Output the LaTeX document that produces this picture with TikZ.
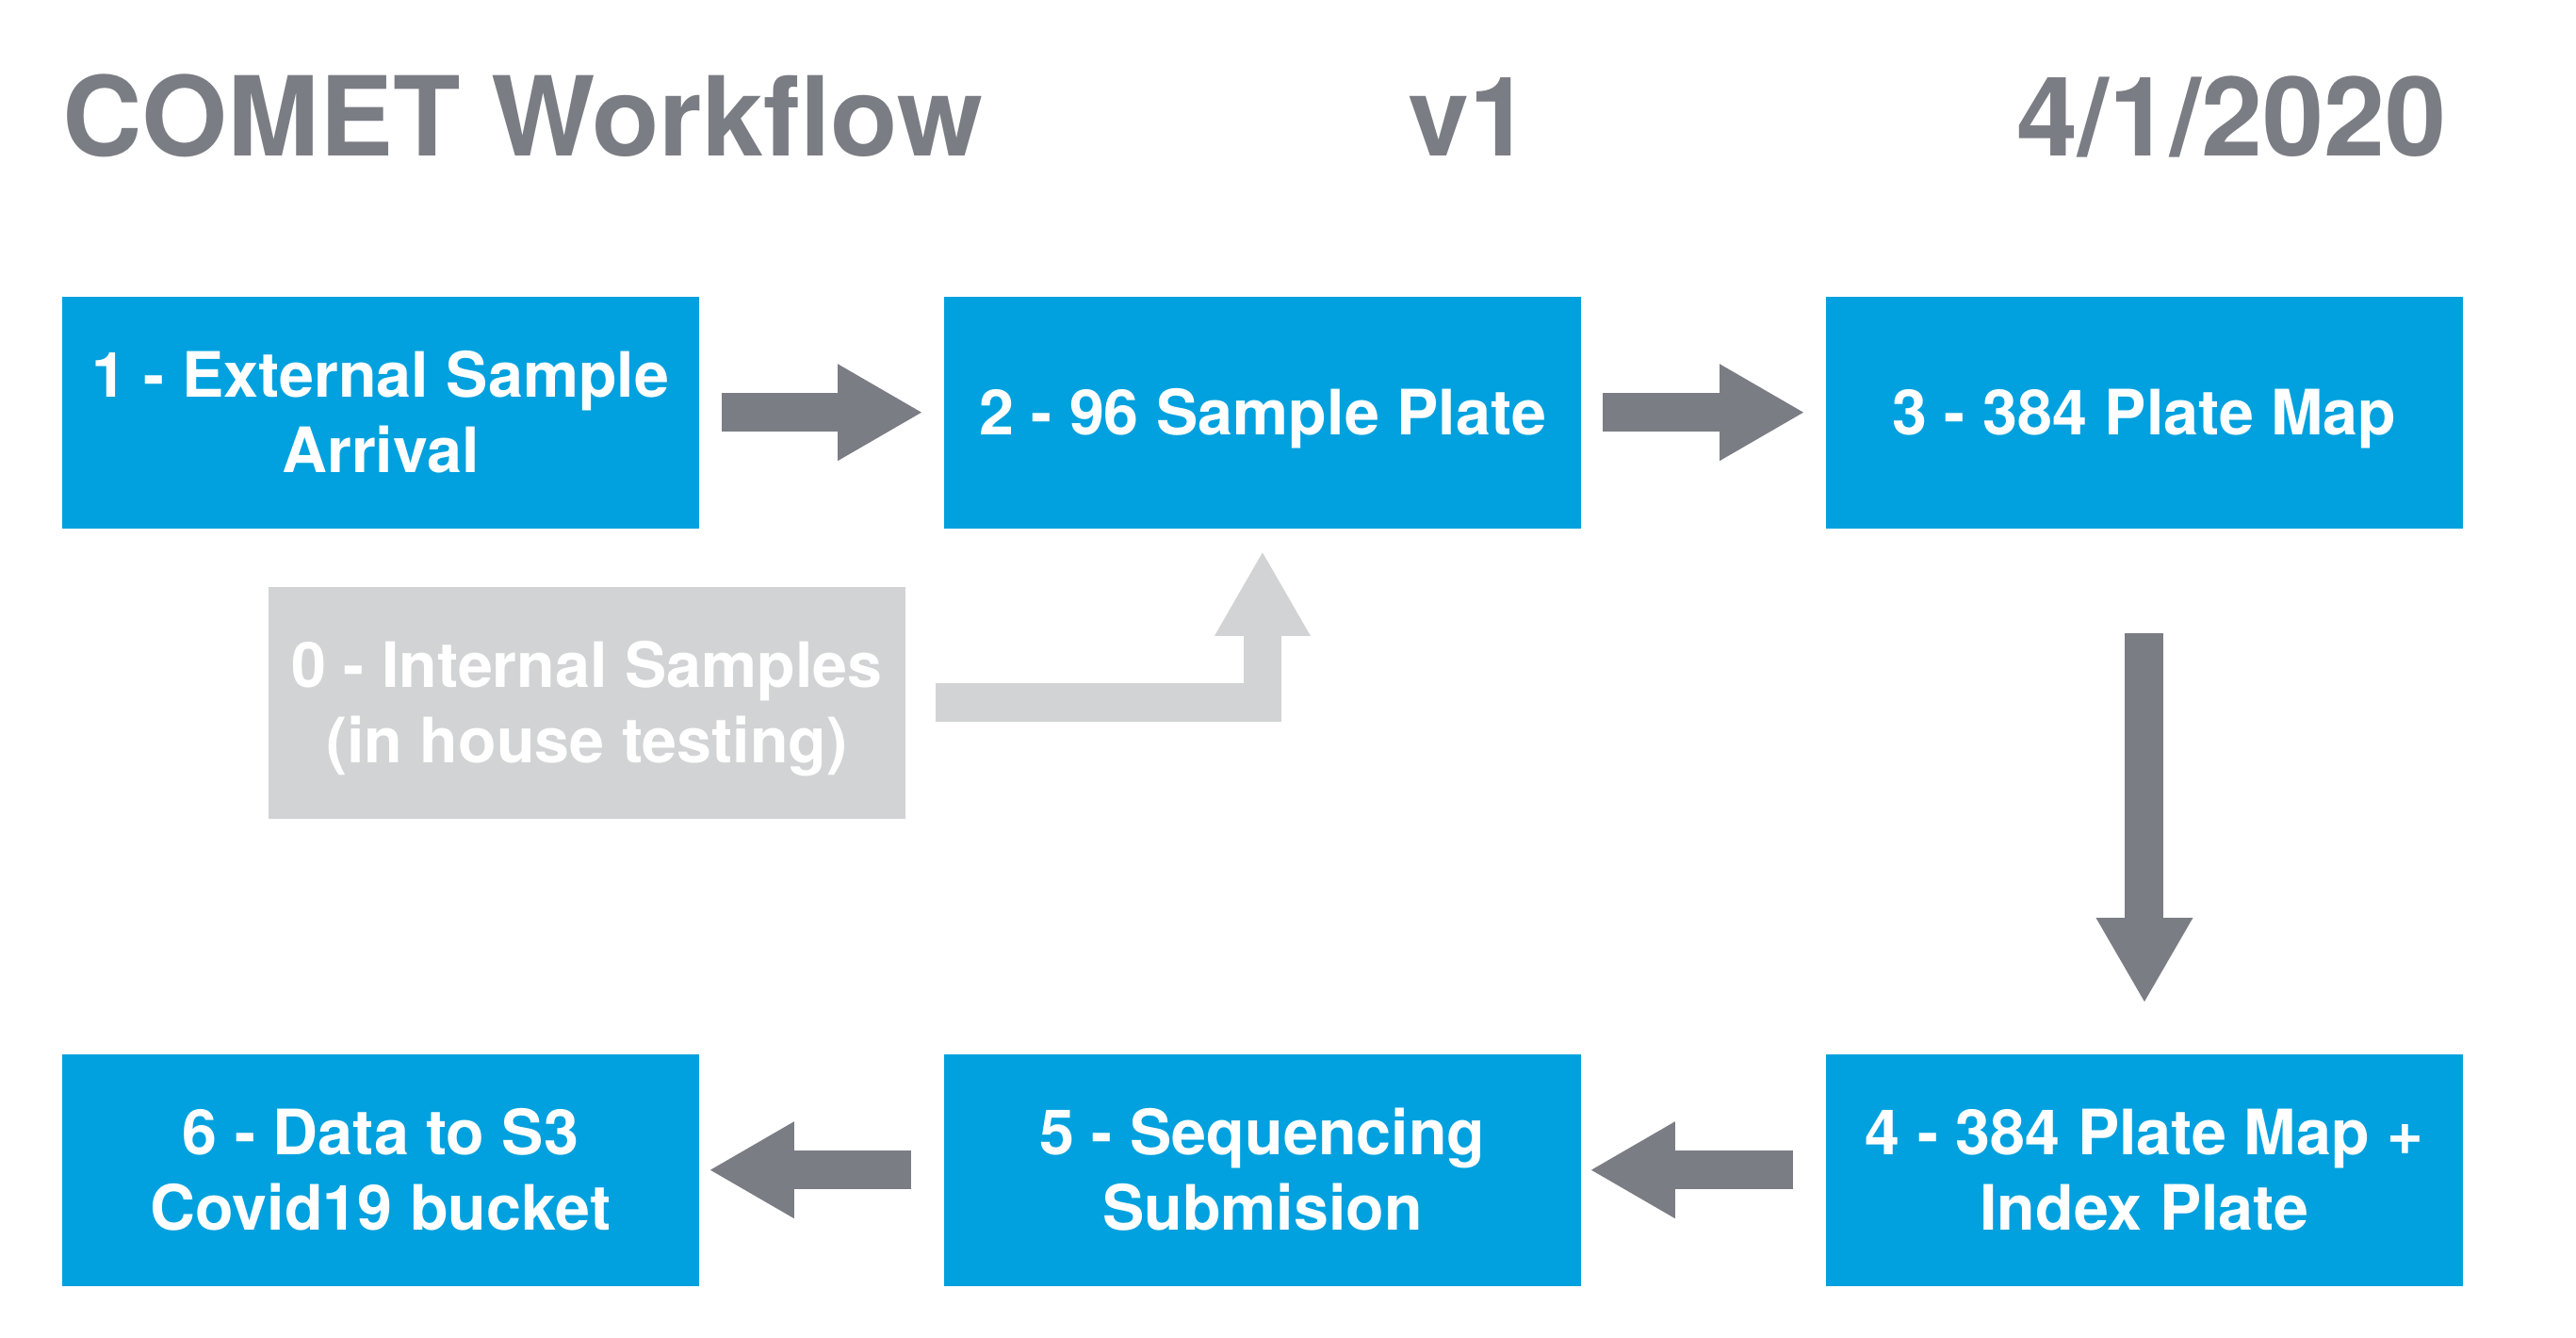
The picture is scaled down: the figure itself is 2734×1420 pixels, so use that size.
\documentclass[tikz,border=0pt]{standalone}
\usepackage{fontspec}
\setmainfont{TeX Gyre Heros}
\usetikzlibrary{arrows.meta}
\definecolor{boxblue}{RGB}{0,161,222}
\definecolor{arrgray}{RGB}{123,125,132}
\definecolor{lightgrey}{RGB}{209,211,212}
\begin{document}
\begin{tikzpicture}[x=0.1mm,y=-0.1mm,
  stepbox/.style={fill=boxblue, draw=none, minimum width=67.65mm, minimum height=24.6mm, inner sep=0pt, anchor=north west},
  greybox/.style={stepbox, fill=lightgrey},
  txt/.style={text=white, font=\fontsize{18.9pt}{22.7pt}\selectfont\bfseries, text height=4.77mm, text depth=0pt, inner sep=0pt},
  titletxt/.style={text=arrgray, font=\fontsize{33.3pt}{40pt}\selectfont\bfseries, inner sep=0pt, anchor=base west},
  flow/.style={draw=arrgray, line width=4.1mm, -{Triangle[width=10.3mm,length=8.9mm,line width=0pt,fill=arrgray]}},
  flowlight/.style={draw=lightgrey, line width=4.05mm, -{Triangle[width=10.2mm,length=8.85mm,line width=0pt,fill=lightgrey]}}
]
\useasboundingbox (0,0) rectangle (2734,1420);

% title
\node[titletxt] (title) at (66,166) {COMET Workflow};
\node[titletxt] (ver) at (1494,166) {v1};
\node[titletxt, anchor=base east] (date) at (2597,166) {4/1/2020};

% boxes
\node[stepbox] (b1) at (65,314) {};
\node[stepbox] (b2) at (1001,314) {};
\node[stepbox] (b3) at (1937,314) {};
\node[greybox] (b0) at (284,622) {};
\node[stepbox] (b6) at (65,1118) {};
\node[stepbox] (b5) at (1001,1118) {};
\node[stepbox] (b4) at (1937,1118) {};

% texts
\node[txt] (t1a) at ([yshift=4mm]b1.center) {1 - External Sample};
\node[txt] (t1b) at ([yshift=-4mm]b1.center) {Arrival};
\node[txt] (t2) at (b2.center) {2 - 96 Sample Plate};
\node[txt] (t3) at (b3.center) {3 - 384 Plate Map};
\node[txt] (t0a) at ([yshift=4mm]b0.center) {0 - Internal Samples};
\node[txt] (t0b) at ([yshift=-4mm]b0.center) {(in house testing)};
\node[txt] (t4a) at ([yshift=4mm]b4.center) {4 - 384 Plate Map +};
\node[txt] (t4b) at ([yshift=-4mm]b4.center) {Index Plate};
\node[txt] (t5a) at ([yshift=4mm]b5.center) {5 - Sequencing};
\node[txt] (t5b) at ([yshift=-4mm]b5.center) {Submision};
\node[txt] (t6a) at ([yshift=4mm]b6.center) {6 - Data to S3};
\node[txt] (t6b) at ([yshift=-4mm]b6.center) {Covid19 bucket};

% connectors
\draw[flow] ([xshift=2.3mm]b1.east) -- ([xshift=-2.3mm]b2.west);
\draw[flow] ([xshift=2.2mm]b2.east) -- ([xshift=-2.3mm]b3.west);
\draw[flow] ([yshift=-11.1mm]b3.south) -- ([yshift=5.5mm]b4.north);
\draw[flow] ([xshift=-3.4mm]b4.west) -- ([xshift=1mm]b5.east);
\draw[flow] ([xshift=-3.4mm]b5.west) -- ([xshift=1.1mm]b6.east);
\draw[flowlight] ([xshift=3.1mm]b0.east) -| ([yshift=-2.5mm]b2.south);
\end{tikzpicture}
\end{document}
